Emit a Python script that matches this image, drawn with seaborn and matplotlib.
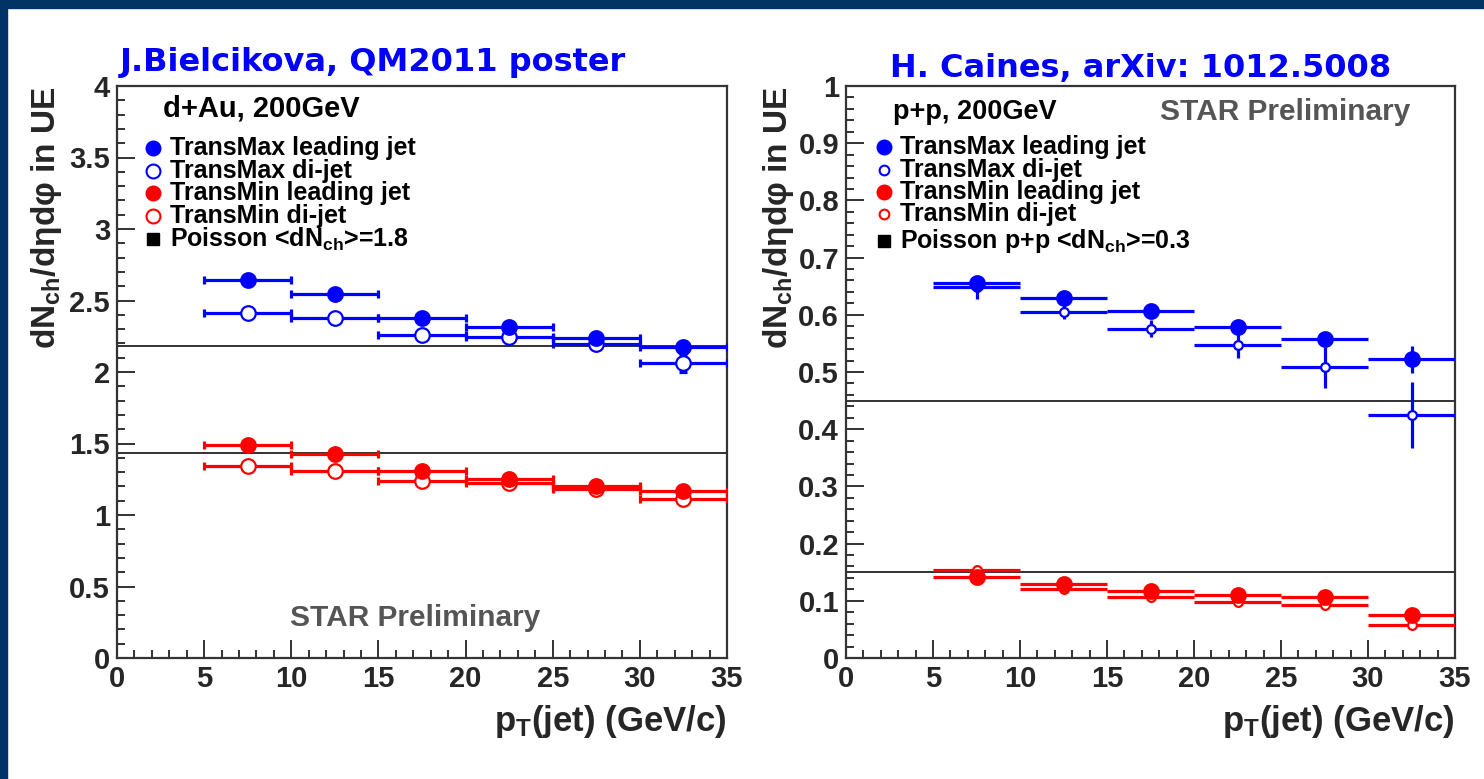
import numpy as np
import pandas as pd
import matplotlib
matplotlib.use("Agg")
import matplotlib.pyplot as plt
import seaborn as sns
from matplotlib.patches import Rectangle
from matplotlib.ticker import MultipleLocator

# ---------------- data ----------------
pt_centers = [7.5, 12.5, 17.5, 22.5, 27.5, 32.5]
pt_halfwidth = 2.5

# d+Au 200 GeV
dau_max_lead = [2.645, 2.545, 2.375, 2.315, 2.235, 2.175]
dau_max_lead_err = [0.03, 0.03, 0.03, 0.03, 0.03, 0.035]
dau_max_di = [2.415, 2.375, 2.26, 2.245, 2.195, 2.06]
dau_max_di_err = [0.02, 0.02, 0.02, 0.02, 0.02, 0.06]
dau_min_lead = [1.49, 1.425, 1.31, 1.255, 1.205, 1.17]
dau_min_lead_err = [0.02, 0.02, 0.02, 0.02, 0.02, 0.02]
dau_min_di = [1.34, 1.31, 1.24, 1.225, 1.18, 1.11]
dau_min_di_err = [0.02, 0.02, 0.02, 0.02, 0.02, 0.02]
dau_poisson = [2.185, 1.435]

# p+p 200 GeV
pp_max_lead = [0.656, 0.630, 0.607, 0.578, 0.558, 0.522]
pp_max_lead_err = [0.008, 0.008, 0.008, 0.008, 0.008, 0.024]
pp_max_di = [0.648, 0.605, 0.576, 0.547, 0.508, 0.425]
pp_max_di_err = [0.02, 0.012, 0.015, 0.022, 0.036, 0.057]
pp_min_lead = [0.142, 0.129, 0.118, 0.110, 0.107, 0.075]
pp_min_lead_err = [0.006, 0.006, 0.006, 0.006, 0.006, 0.006]
pp_min_di = [0.153, 0.121, 0.107, 0.098, 0.093, 0.058]
pp_min_di_err = [0.006, 0.006, 0.006, 0.006, 0.006, 0.006]
pp_poisson = [0.45, 0.15]

legend_labels = ["TransMax leading jet", "TransMax di-jet",
                 "TransMin leading jet", "TransMin di-jet"]

BLUE = "#0000ff"
RED = "#ff0000"
NAVY = "#003366"

sns.set_theme(style="white")
plt.rcParams['font.family'] = ['Liberation Sans', 'DejaVu Sans']
plt.rcParams['font.weight'] = 'bold'
plt.rcParams['mathtext.fontset'] = 'custom'
plt.rcParams['mathtext.rm'] = 'Liberation Sans:bold'
plt.rcParams['mathtext.it'] = 'Liberation Sans:bold'
plt.rcParams['mathtext.bf'] = 'Liberation Sans:bold'
plt.rcParams['mathtext.default'] = 'rm'

W, H = 1484, 779
fig = plt.figure(figsize=(W / 100, H / 100), dpi=100)
fig.patch.set_facecolor("white")

# frame bands
fig.patches.append(Rectangle((0, 1 - 8 / H), 1, 8 / H, transform=fig.transFigure,
                             color=NAVY, zorder=0))
fig.patches.append(Rectangle((0, 0), 7 / W, 1, transform=fig.transFigure,
                             color=NAVY, zorder=0))


def make_ax(x0, x1, y0=86, y1=658):
    return fig.add_axes([x0 / W, 1 - y1 / H, (x1 - x0) / W, (y1 - y0) / H])


axL = make_ax(117, 727)
axR = make_ax(846, 1455)


def style_ax(ax, ymax, ymajor, yminor, fmt):
    ax.set_xlim(0, 35)
    ax.set_ylim(0, ymax)
    ax.xaxis.set_major_locator(MultipleLocator(5))
    ax.xaxis.set_minor_locator(MultipleLocator(1))
    ax.yaxis.set_major_locator(MultipleLocator(ymajor))
    ax.yaxis.set_minor_locator(MultipleLocator(yminor))
    ax.tick_params(which='both', direction='in', left=True, bottom=True,
                   top=False, right=False, color='#222222', width=1.3)
    ax.tick_params(which='major', length=13, labelsize=21, pad=5)
    ax.tick_params(which='minor', length=6)
    for s in ax.spines.values():
        s.set_color('#333333')
        s.set_linewidth(1.6)
    ax.yaxis.set_major_formatter(matplotlib.ticker.FuncFormatter(fmt))
    ax.xaxis.set_major_formatter(matplotlib.ticker.FuncFormatter(lambda v, p: f"{v:g}"))
    for lab in ax.get_xticklabels() + ax.get_yticklabels():
        lab.set_fontweight('bold')
    ax.set_xlabel("")
    ax.set_ylabel("")


def draw_series(ax, y, yerr, color, filled, size, capsize, lw):
    ax.errorbar(pt_centers, y, xerr=pt_halfwidth, yerr=yerr, fmt='none',
                ecolor=color, elinewidth=lw, capsize=capsize, capthick=lw, zorder=3)
    df = pd.DataFrame({"pt": pt_centers, "v": y})
    sns.scatterplot(data=df, x="pt", y="v", ax=ax, s=size, marker='o',
                    color=color if filled else 'white',
                    edgecolor=color, linewidth=1.6, zorder=4, legend=False)


# ----- left panel: d+Au -----
for yv in dau_poisson:
    axL.axhline(yv, color='#222222', lw=1.3, zorder=2)
draw_series(axL, dau_min_di, dau_min_di_err, RED, False, 110, 3, 2.3)
draw_series(axL, dau_min_lead, dau_min_lead_err, RED, True, 110, 3, 2.3)
draw_series(axL, dau_max_di, dau_max_di_err, BLUE, False, 110, 3, 2.3)
draw_series(axL, dau_max_lead, dau_max_lead_err, BLUE, True, 110, 3, 2.3)
style_ax(axL, 4, 0.5, 0.1, lambda v, p: f"{v:g}")

# ----- right panel: p+p -----
for yv in pp_poisson:
    axR.axhline(yv, color='#222222', lw=1.3, zorder=2)
draw_series(axR, pp_min_di, pp_min_di_err, RED, False, 40, 0, 2.3)
draw_series(axR, pp_min_lead, pp_min_lead_err, RED, True, 110, 0, 2.3)
draw_series(axR, pp_max_di, pp_max_di_err, BLUE, False, 40, 0, 2.3)
draw_series(axR, pp_max_lead, pp_max_lead_err, BLUE, True, 110, 0, 2.3)
style_ax(axR, 1, 0.1, 0.02, lambda v, p: f"{v:g}")


# ----- legends -----
def legend(ax, mx, tx, header, header_xy, header_size, poisson_label,
           small_open, ys):
    colors = [BLUE, BLUE, RED, RED]
    filled = [True, False, True, False]
    for i, lab in enumerate(legend_labels):
        ms = 10 if (filled[i] or not small_open) else 7
        ax.plot([mx], [ys[i]], marker='o', ms=ms, transform=ax.transAxes,
                color=colors[i], mfc=colors[i] if filled[i] else 'white',
                mec=colors[i], mew=1.5, clip_on=False, zorder=6)
        ax.text(tx, ys[i], lab, transform=ax.transAxes, fontsize=18,
                fontweight='bold', va='center', ha='left', color='black')
    ax.plot([mx], [ys[4]], marker='s', ms=9, transform=ax.transAxes,
            color='black', clip_on=False, zorder=6)
    ax.text(tx, ys[4], poisson_label, transform=ax.transAxes, fontsize=18,
            fontweight='bold', va='center', ha='left', color='black')
    ax.text(header_xy[0], header_xy[1], header, transform=ax.transAxes,
            fontsize=header_size, fontweight='bold', va='center', ha='left',
            color='black')


legend(axL, 0.059, 0.087, "d+Au, 200GeV", (0.0754, 0.9615), 21,
       r"Poisson <dN$_{\rm ch}$>=1.8", False,
       [0.8916, 0.8514, 0.8129, 0.7727, 0.7325])
legend(axR, 0.0624, 0.0887, "p+p, 200GeV", (0.0772, 0.9545), 19.5,
       r"Poisson p+p <dN$_{\rm ch}$>=0.3", True,
       [0.8935, 0.8535, 0.8145, 0.7755, 0.729])

axL.text(0.2836, 0.0699, "STAR Preliminary", transform=axL.transAxes,
         fontsize=21.5, fontweight='bold', color='#555555', va='center', ha='left')
axR.text(0.5156, 0.9545, "STAR Preliminary", transform=axR.transAxes,
         fontsize=21.5, fontweight='bold', color='#555555', va='center', ha='left')

# axis labels
ylab = r"dN$_{\rm ch}$/dηdφ in UE"
fig.text(47 / W, 1 - 86 / H, ylab, rotation=90, fontsize=24, fontweight='bold',
         ha='center', va='top')
fig.text(778 / W, 1 - 86 / H, ylab, rotation=90, fontsize=24, fontweight='bold',
         ha='center', va='top')
xlab = r"p$_{\rm T}$(jet) (GeV/c)"
fig.text(727 / W, 1 - 722 / H, xlab, fontsize=25, fontweight='bold',
         ha='right', va='center')
fig.text(1455 / W, 1 - 722 / H, xlab, fontsize=25, fontweight='bold',
         ha='right', va='center')

# titles
fig.text(120 / W, 1 - 62 / H, "J.Bielcikova, QM2011 poster", fontsize=23,
         fontweight='bold', color=BLUE, family='DejaVu Sans', ha='left', va='center')
fig.text(890 / W, 1 - 68 / H, "H. Caines, arXiv: 1012.5008", fontsize=23,
         fontweight='bold', color=BLUE, family='DejaVu Sans', ha='left', va='center')

fig.savefig("out.png", dpi=100, facecolor="white")
